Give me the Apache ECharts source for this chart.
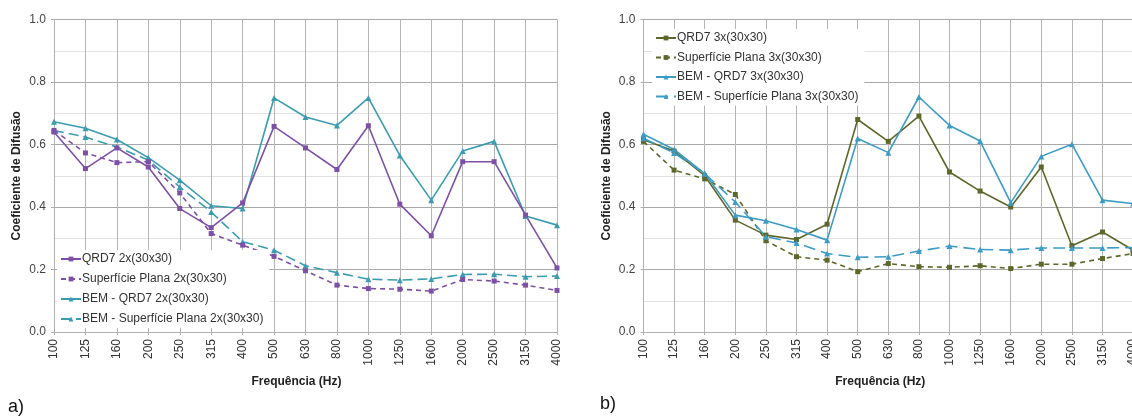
<!DOCTYPE html>
<html>
<head>
<meta charset="utf-8">
<script src="https://cdn.jsdelivr.net/npm/echarts@6/dist/echarts.min.js"></script>
<style>
html,body{margin:0;padding:0;background:#fff;}
#c{width:1132px;height:417px;}
</style>
</head>
<body>
<div id="c"></div>
<script>
// Categories (frequency, Hz)
const freq = ['100','125','160','200','250','315','400','500','630','800','1000','1250','1600','2000','2500','3150','4000'];

// Panel a) 2x(30x30)
const qrd7_2x      = [0.640,0.523,0.589,0.528,0.395,0.334,0.413,0.658,0.589,0.520,0.660,0.409,0.308,0.545,0.545,0.374,0.205];
const plana_2x     = [0.645,0.573,0.542,0.545,0.445,0.315,0.278,0.242,0.196,0.150,0.139,0.137,0.131,0.168,0.163,0.150,0.133];
const bem_qrd7_2x  = [0.673,0.652,0.616,0.558,0.486,0.404,0.395,0.749,0.688,0.661,0.749,0.565,0.422,0.579,0.610,0.371,0.342];
const bem_plana_2x = [0.645,0.624,0.592,0.550,0.464,0.384,0.289,0.262,0.212,0.190,0.169,0.166,0.170,0.184,0.185,0.177,0.179];

// Panel b) 3x(30x30)
const qrd7_3x      = [0.615,0.579,0.500,0.358,0.310,0.296,0.345,0.680,0.610,0.691,0.512,0.451,0.400,0.528,0.276,0.320,0.262];
const plana_3x     = [0.610,0.518,0.490,0.440,0.292,0.241,0.230,0.193,0.219,0.209,0.207,0.212,0.203,0.217,0.217,0.235,0.251];
const bem_qrd7_3x  = [0.633,0.584,0.507,0.374,0.356,0.328,0.294,0.619,0.574,0.752,0.661,0.611,0.414,0.562,0.601,0.422,0.411];
const bem_plana_3x = [0.620,0.573,0.507,0.416,0.305,0.285,0.251,0.239,0.241,0.259,0.275,0.264,0.262,0.269,0.269,0.269,0.270];

const names_a = ['QRD7 2x(30x30)','Superfície Plana 2x(30x30)','BEM - QRD7 2x(30x30)','BEM - Superfície Plana 2x(30x30)'];
const names_b = ['QRD7 3x(30x30)','Superfície Plana 3x(30x30)','BEM - QRD7 3x(30x30)','BEM - Superfície Plana 3x(30x30)'];

const FONT = 'Arial, "Liberation Sans", sans-serif';
const PURPLE = '#7d50a6', TEAL = '#3b9cb0', OLIVE = '#5c672a', BLUE = '#3c9cc6';

function xAxis(gi, padRight){
  return {
    type:'category', gridIndex:gi, data:freq, boundaryGap:false,
    axisLine:{show:true, lineStyle:{color:'#b0b0b0', width:1}},
    axisTick:{show:true, alignWithLabel:true, length:3, lineStyle:{color:'#b0b0b0'}},
    axisLabel:{rotate:90, fontSize:12, fontFamily:FONT, color:'#333', margin:7, interval:0},
    splitLine:{show:true, lineStyle:{color:'#b5b5b5', width:1}},
    name:'Frequência (Hz)', nameLocation:'middle', nameGap:44,
    nameTextStyle:{fontSize:12, fontWeight:'bold', fontFamily:FONT, color:'#222', padding:[0,padRight,0,0]}
  };
}
function yAxis(gi){
  return {
    type:'value', gridIndex:gi, min:0, max:1, interval:0.2,
    axisLine:{show:true, lineStyle:{color:'#b0b0b0'}},
    axisTick:{show:true, length:3, lineStyle:{color:'#b0b0b0'}},
    axisLabel:{fontSize:12, fontFamily:FONT, color:'#444', margin:8, formatter:v=>v.toFixed(1)},
    splitLine:{show:true, lineStyle:{color:'#a8a8a8', width:1}},
    minorTick:{show:false, splitNumber:2},
    minorSplitLine:{show:true, lineStyle:{color:'#e2e2e2', width:1}},
    name:'Coeficiente de Difusão', nameLocation:'middle', nameGap:31, nameRotate:90,
    nameTextStyle:{fontSize:12, fontWeight:'bold', fontFamily:FONT, color:'#222'}
  };
}
function line(name, data, gi, color, symbol, dashed, dash){
  return {
    type:'line', name:name, data:data, xAxisIndex:gi, yAxisIndex:gi,
    symbol:symbol, symbolSize: symbol==='triangle'?6:5, showSymbol:true,
    lineStyle:{color:color, width:1.6, type: dashed ? dash : 'solid'},
    itemStyle:{color:color},
    emphasis:{disabled:true}, animation:false
  };
}
function legend(names, left, top, gap){
  return {
    data:names, orient:'vertical', left:left, top:top,
    itemWidth:20, itemHeight:6, itemGap:gap,
    backgroundColor:'#ffffff', padding:[3,6,3,3],
    textStyle:{fontSize:12, fontFamily:FONT, color:'#333', lineHeight:12, padding:[0,0,0,-4]},
    selectedMode:false
  };
}

const chart = echarts.init(document.getElementById('c'), null, {renderer:'canvas'});
chart.setOption({
  animation:false,
  backgroundColor:'#ffffff',
  grid:[
    {left:54, top:19.5, width:503, height:312.5, outerBoundsMode:'none', containLabel:false},
    {left:643.5, top:19.5, width:489.6, height:312.5, outerBoundsMode:'none', containLabel:false}
  ],
  xAxis:[xAxis(0,18), xAxis(1,16)],
  yAxis:[yAxis(0), yAxis(1)],
  legend:[ legend(names_a, 57, 250, 8), legend(names_b, 652, 29, 7.5) ],
  series:[
    line(names_a[2], bem_qrd7_2x, 0, TEAL, 'triangle', false),
    line(names_a[3], bem_plana_2x, 0, TEAL, 'triangle', true, [10,5]),
    line(names_a[0], qrd7_2x, 0, PURPLE, 'rect', false),
    line(names_a[1], plana_2x, 0, PURPLE, 'rect', true, [5,4]),
    line(names_b[0], qrd7_3x, 1, OLIVE, 'rect', false),
    line(names_b[1], plana_3x, 1, OLIVE, 'rect', true, [5,4]),
    line(names_b[2], bem_qrd7_3x, 1, BLUE, 'triangle', false),
    line(names_b[3], bem_plana_3x, 1, BLUE, 'triangle', true, [12,6])
  ],
  graphic:[
    {type:'text', left:8, top:398, style:{text:'a)', font:'18px '+FONT, fill:'#111'}},
    {type:'text', left:600, top:395, style:{text:'b)', font:'18px '+FONT, fill:'#111'}}
  ]
});
</script>
</body>
</html>
